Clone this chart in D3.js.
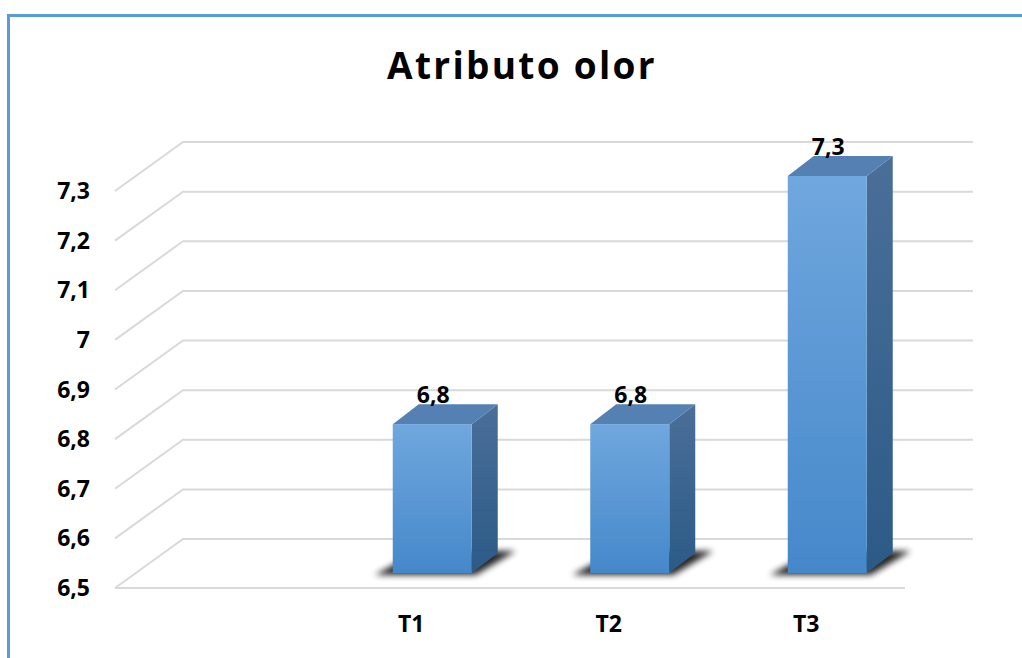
<!DOCTYPE html>
<html>
<head>
<meta charset="utf-8">
<script src="https://cdnjs.cloudflare.com/ajax/libs/d3/7.8.5/d3.min.js"></script>
<style>
  body { margin: 0; background: #fff; }
  svg { display: block; }
</style>
</head>
<body>
<svg id="chart"></svg>
<script>
// chart data
var categories = ["", "T1", "T2", "T3"];
var values = [null, 6.8, 6.8, 7.3];
var valueLabels = ["", "6,8", "6,8", "7,3"];
var tickValues = [6.5, 6.6, 6.7, 6.8, 6.9, 7.0, 7.1, 7.2, 7.3];
var tickLabels = ["6,5", "6,6", "6,7", "6,8", "6,9", "7", "7,1", "7,2", "7,3"];

var width = 1022, height = 658;
var font = "'Open Sans', 'DejaVu Sans', sans-serif";

var svg = d3.select("#chart")
    .attr("width", width)
    .attr("height", height);

var defs = svg.append("defs");

// 3d offsets
var floorDepth = { dx: 68, dy: -49 };   // front of floor -> back wall
var barPlane = { dx: 21, dy: -15 };     // front of floor -> bar front face
var barDepth = { dx: 26, dy: -20 };     // bar front face -> bar back face

var x = d3.scaleBand()
    .domain(categories)
    .range([115, 905]);

var y = d3.scaleLinear()
    .domain([6.5, 7.3])
    .range([588, 191]);

var barW = x.bandwidth() * 0.4;

// chart border
svg.append("rect")
    .attr("x", 8.5)
    .attr("y", 15.5)
    .attr("width", 1040)
    .attr("height", 700)
    .attr("fill", "none")
    .attr("stroke", "#5b9bd5")
    .attr("stroke-width", 3);

// title
svg.append("text")
    .attr("x", 522)
    .attr("y", 79)
    .attr("text-anchor", "middle")
    .attr("font-family", font)
    .attr("font-weight", "bold")
    .attr("font-size", 37)
    .attr("letter-spacing", 2.3)
    .attr("fill", "#000")
    .text("Atributo olor");

// gradients
var front = defs.append("linearGradient")
    .attr("id", "front").attr("x1", 0).attr("x2", 0).attr("y1", 0).attr("y2", 1);
front.append("stop").attr("offset", "0%").attr("stop-color", "#70a7de");
front.append("stop").attr("offset", "100%").attr("stop-color", "#4588ca");

var side = defs.append("linearGradient")
    .attr("id", "side").attr("x1", 0).attr("x2", 0).attr("y1", 0).attr("y2", 1);
side.append("stop").attr("offset", "0%").attr("stop-color", "#4a6f99");
side.append("stop").attr("offset", "100%").attr("stop-color", "#2c5a87");

var blur = defs.append("filter")
    .attr("id", "blur")
    .attr("x", "-50%").attr("y", "-50%")
    .attr("width", "200%").attr("height", "200%");
blur.append("feGaussianBlur").attr("stdDeviation", 3);

// gridlines (3d: diagonal on side wall, then horizontal on back wall)
var grid = svg.append("g")
    .attr("fill", "none")
    .attr("stroke", "#d9d9d9")
    .attr("stroke-width", 2);

grid.selectAll("path.grid")
    .data(tickValues)
    .enter()
    .append("path")
    .attr("class", "grid")
    .attr("d", function(t) {
        var x0 = x.range()[0], y0 = y(t);
        return "M" + x0 + "," + y0 +
            "L" + (x0 + floorDepth.dx) + "," + (y0 + floorDepth.dy) +
            "L" + (x.range()[1] + floorDepth.dx) + "," + (y0 + floorDepth.dy);
    });

// front edge of floor
grid.append("path")
    .attr("d", "M" + x.range()[0] + "," + y(6.5) + "L" + x.range()[1] + "," + y(6.5));

// y labels
svg.append("g")
    .selectAll("text")
    .data(tickValues)
    .enter()
    .append("text")
    .attr("x", 90)
    .attr("y", function(t) { return y(t) + 8; })
    .attr("text-anchor", "end")
    .attr("font-family", font)
    .attr("font-weight", "bold")
    .attr("font-size", 23)
    .attr("fill", "#000")
    .text(function(t, i) { return tickLabels[i]; });

// x labels
svg.append("g")
    .selectAll("text")
    .data(categories)
    .enter()
    .append("text")
    .attr("x", function(c) { return x(c) + x.bandwidth() / 2; })
    .attr("y", 632)
    .attr("text-anchor", "middle")
    .attr("font-family", font)
    .attr("font-weight", "bold")
    .attr("font-size", 23)
    .attr("fill", "#000")
    .text(function(c) { return c; });

// bars
var barData = categories.map(function(c, i) {
    return { cat: c, value: values[i], label: valueLabels[i] };
}).filter(function(d) { return d.value != null; });

var bars = svg.append("g")
    .selectAll("g")
    .data(barData)
    .enter()
    .append("g");

function geom(d) {
    var x0 = x(d.cat) + (x.bandwidth() - barW) / 2 + barPlane.dx;
    var x1 = x0 + barW;
    var yb = y(6.5) + barPlane.dy;
    var yt = y(d.value) + barPlane.dy;
    return { x0: x0, x1: x1, yb: yb, yt: yt };
}

function pts(arr) {
    return arr.map(function(p) { return p.join(","); }).join(" ");
}

// shadow on the floor
bars.append("polygon")
    .attr("points", function(d) {
        var g = geom(d), dx = barDepth.dx, dy = barDepth.dy;
        return pts([
            [g.x0 - 18, g.yb + 2],
            [g.x1 + 4, g.yb + 2],
            [g.x1 + dx + 18, g.yb + dy - 2],
            [g.x0 + dx, g.yb + dy - 2]
        ]);
    })
    .attr("fill", "#000")
    .attr("opacity", 0.85)
    .attr("filter", "url(#blur)");

// side face
bars.append("polygon")
    .attr("points", function(d) {
        var g = geom(d), dx = barDepth.dx, dy = barDepth.dy;
        return pts([
            [g.x1, g.yt], [g.x1 + dx, g.yt + dy],
            [g.x1 + dx, g.yb + dy], [g.x1, g.yb]
        ]);
    })
    .attr("fill", "url(#side)");

// top face
bars.append("polygon")
    .attr("points", function(d) {
        var g = geom(d), dx = barDepth.dx, dy = barDepth.dy;
        return pts([
            [g.x0, g.yt], [g.x0 + dx, g.yt + dy],
            [g.x1 + dx, g.yt + dy], [g.x1, g.yt]
        ]);
    })
    .attr("fill", "#5480b3");

// front face
bars.append("rect")
    .attr("x", function(d) { return geom(d).x0; })
    .attr("y", function(d) { return geom(d).yt; })
    .attr("width", barW)
    .attr("height", function(d) { var g = geom(d); return g.yb - g.yt; })
    .attr("fill", "url(#front)");

// value labels
bars.append("text")
    .attr("x", function(d) { var g = geom(d); return (g.x0 + g.x1) / 2 + 1; })
    .attr("y", function(d) { return geom(d).yt - 21; })
    .attr("text-anchor", "middle")
    .attr("font-family", font)
    .attr("font-weight", "bold")
    .attr("font-size", 23)
    .attr("fill", "#000")
    .text(function(d) { return d.label; });
</script>
</body>
</html>
